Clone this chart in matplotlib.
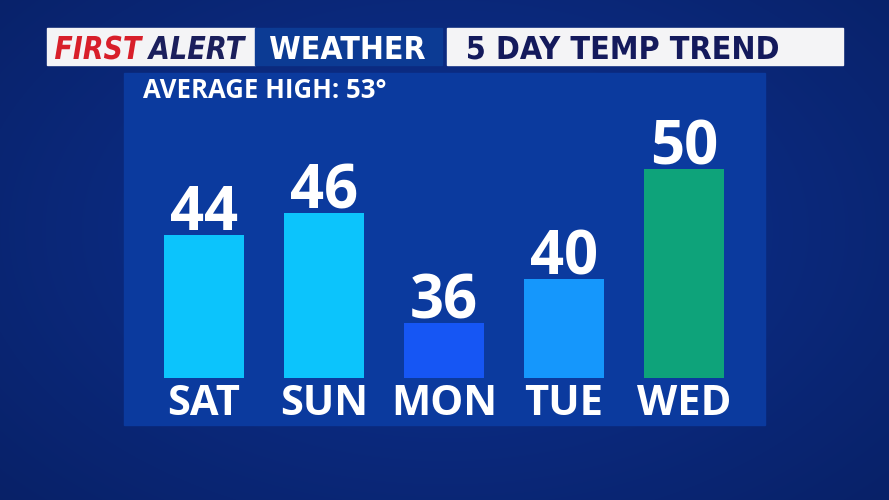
import numpy as np
import matplotlib
matplotlib.use('Agg')
import matplotlib.pyplot as plt
from matplotlib.patches import Rectangle, PathPatch
from matplotlib.textpath import TextPath
from matplotlib.font_manager import FontProperties
from matplotlib.transforms import Affine2D

days = ['SAT', 'SUN', 'MON', 'TUE', 'WED']
highs = [44, 46, 36, 40, 50]
bar_colors = ['#0cc4fc', '#0cc4fc', '#1656f4', '#1597fc', '#0ea37a']
average_high = 53

W, H = 889, 500
fig = plt.figure(figsize=(W / 100, H / 100), dpi=100)

# background (pixel coords, y down)
bg = fig.add_axes([0, 0, 1, 1])
bg.set_xlim(0, W)
bg.set_ylim(H, 0)
bg.axis('off')
yy, xx = np.mgrid[0:H, 0:W]
r = np.sqrt(((xx - 445) / 520.0) ** 2 + ((yy - 230) / 330.0) ** 2)
shade = np.clip(1 - 0.55 * r, 0, 1)
c0 = np.array([5, 24, 80]) / 255.0
c1 = np.array([14, 50, 148]) / 255.0
img = c0 + (c1 - c0) * shade[..., None]
bg.imshow(img, extent=[0, W, H, 0], aspect='auto', zorder=0)

# panel
bg.add_patch(Rectangle((124, 73), 641, 352, color='#0b3a9e', zorder=1))

# header banner
bg.add_patch(Rectangle((47, 28), 208, 37, color='#f4f4f6', zorder=2))
bg.add_patch(Rectangle((255, 28), 187, 37, color='#0c3b94', zorder=2))
bg.add_patch(Rectangle((447, 28), 396, 37, color='#f4f4f6', zorder=2))


def fit_text(s, x0, x1, base, cap, color, italic=False):
    # condensed header lettering squeezed into a given box
    fp = FontProperties(family='DejaVu Sans', weight='bold',
                        style='oblique' if italic else 'normal')
    tp = TextPath((0, 0), s, size=100, prop=fp)
    ext = tp.get_extents()
    capref = TextPath((0, 0), 'H', size=100, prop=fp).get_extents().height
    sx = (x1 - x0) / ext.width
    sy = cap / capref
    tr = Affine2D().translate(-ext.x0, 0).scale(sx, -sy).translate(x0, base)
    bg.add_patch(PathPatch(tp, transform=tr + bg.transData, color=color,
                           lw=0, zorder=3))


fit_text('FIRST', 55, 143, 59, 23, '#d81f2a', italic=True)
fit_text('ALERT', 147, 246, 59, 23, '#1b1f5c', italic=True)
fit_text('WEATHER', 270, 425, 59, 23, 'white')
fit_text('5 DAY TEMP TREND', 468, 778, 59, 23, '#141a5c')

bg.text(143, 98, 'AVERAGE HIGH: %d\u00b0' % average_high, color='white',
        fontsize=18.5, fontweight='bold', va='baseline', family='Open Sans', zorder=3)

# bars
ax = fig.add_axes([144 / W, (H - 378) / H, 600 / W, 278 / H])
ax.patch.set_alpha(0)
x = np.arange(len(days))
ax.bar(x, highs, width=80 / 120, bottom=0, color=bar_colors, zorder=2)
ax.set_xlim(-0.5, len(days) - 0.5)
ax.set_ylim(31, 31 + 278 / 11.0)
ax.axis('off')
for xi, v in zip(x, highs):
    ax.text(xi, v + 0.45, str(v), ha='center', va='baseline', color='white',
            fontsize=43, fontweight='bold', family='Open Sans')
    ax.text(xi, 31 - 3.4, days[xi], ha='center', va='baseline', color='white',
            fontsize=30, fontweight='bold', family='Open Sans', clip_on=False)

fig.savefig('out.png', dpi=100)
